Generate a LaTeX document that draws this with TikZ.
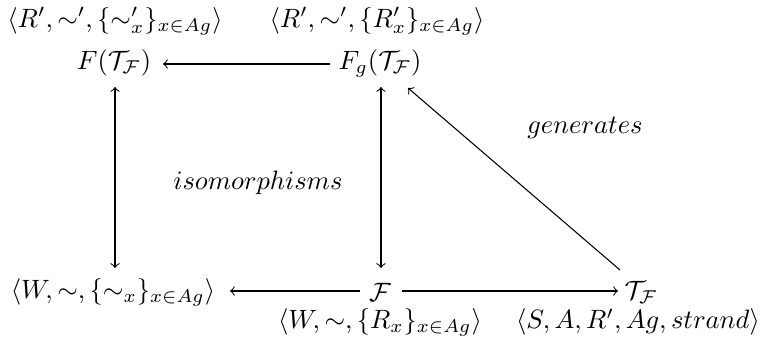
\documentclass[tikz,border=0pt]{standalone}
\usepackage{amsmath,amssymb}
\begin{document}
\begin{tikzpicture}[x=0.377pt,y=-0.377pt,
  obj/.style={inner sep=2pt},
  arr/.style={->,line width=0.4pt},
  darr/.style={<->,line width=0.4pt}]
\useasboundingbox (0,0) rectangle (763,349);
\node[obj] (tl) at (115,21) {$\langle R',\sim',\{\sim'_x\}_{x\in Ag}\rangle$};
\node[obj] (tr) at (377,21) {$\langle R',\sim',\{R'_x\}_{x\in Ag}\rangle$};
\node[obj] (F) at (114,63) {$F(\mathcal{T}_{\mathcal{F}})$};
\node[obj] (Fg) at (380,63) {$F_g(\mathcal{T}_{\mathcal{F}})$};
\node[obj] (W) at (113,292) {$\langle W,\sim,\{\sim_x\}_{x\in Ag}\rangle$};
\node[obj] (cF) at (380,292) {$\mathcal{F}$};
\node[obj] (T) at (641,292) {$\mathcal{T}_{\mathcal{F}}$};
\node[obj] (bl) at (380,322) {$\langle W,\sim,\{R_x\}_{x\in Ag}\rangle$};
\node[obj] (br) at (638,322) {$\langle S,A,R',Ag,strand\rangle$};
\node[obj] (iso) at (258,183) {$isomorphisms$};
\node[obj] (gen) at (585,128) {$generates$};
\coordinate (FgL) at (330,64);
\coordinate (FR) at (163,64);
\coordinate (Ft) at (115,87);
\coordinate (Wt) at (115,268);
\coordinate (Fgt) at (381,87);
\coordinate (cFt) at (381,268);
\coordinate (cFL) at (360,291);
\coordinate (WR) at (230,291);
\coordinate (cFR) at (402,291);
\coordinate (TL) at (618,291);
\coordinate (Tt) at (620,270);
\coordinate (Fgb) at (408,88);
\draw[arr] (FgL) -- (FR);
\draw[darr] (Ft) -- (Wt);
\draw[darr] (Fgt) -- (cFt);
\draw[arr] (cFL) -- (WR);
\draw[arr] (cFR) -- (TL);
\draw[arr] (Tt) -- (Fgb);
\end{tikzpicture}
\end{document}
